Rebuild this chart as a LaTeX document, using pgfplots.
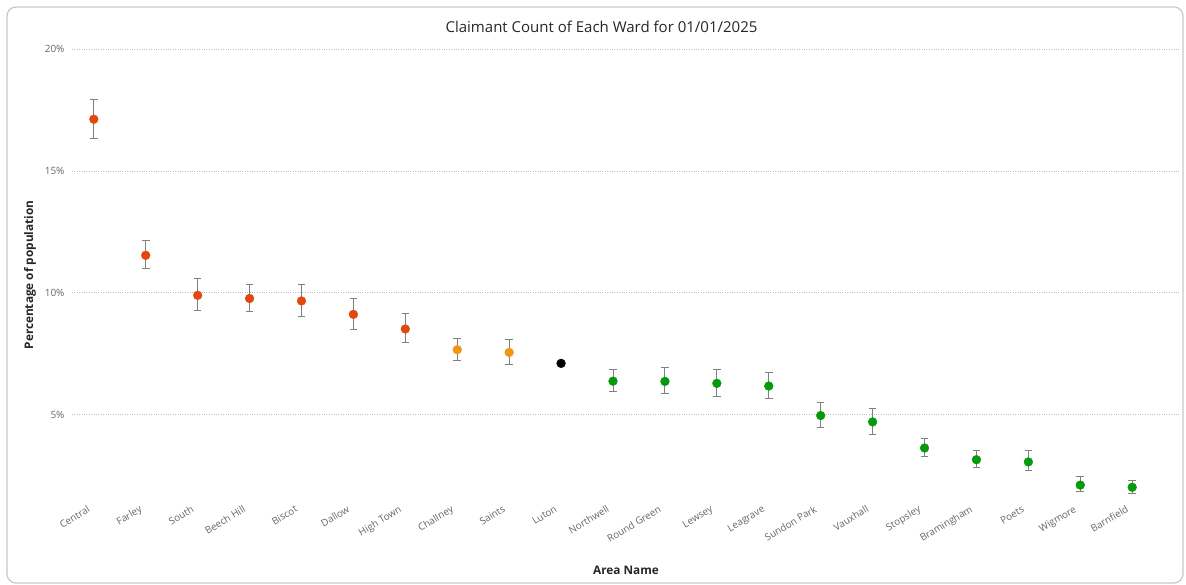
\documentclass[border=0pt]{standalone}
\usepackage{pgfplots}
\pgfplotsset{compat=1.18}
\usepackage{pgfplotstable}
\usepackage{fontspec}
\setmainfont{Open Sans}
\definecolor{redor}{HTML}{E2480E}
\definecolor{orng}{HTML}{F0960F}
\definecolor{grn}{HTML}{049A0C}
\definecolor{tick}{HTML}{666666}
\definecolor{errc}{HTML}{808080}

% x = category index, y = percentage, ep/em = error plus/minus
\pgfplotstableread{
x y ep em
0 17.12 0.82 0.78
1 11.54 0.61 0.54
2 9.90 0.69 0.63
3 9.77 0.58 0.54
4 9.67 0.68 0.64
5 9.12 0.66 0.63
6 8.52 0.62 0.57
}\redtab
\pgfplotstableread{
x y ep em
7 7.67 0.48 0.46
8 7.56 0.53 0.51
}\orangetab
\pgfplotstableread{
x y
9 7.11
}\blacktab
\pgfplotstableread{
x y ep em
10 6.38 0.48 0.42
11 6.37 0.57 0.51
12 6.29 0.57 0.55
13 6.18 0.55 0.51
14 4.97 0.55 0.49
15 4.71 0.57 0.50
16 3.64 0.39 0.35
17 3.16 0.36 0.31
18 3.07 0.45 0.37
19 2.12 0.35 0.28
20 2.03 0.29 0.26
}\greentab

\begin{document}
\begin{tikzpicture}
\useasboundingbox (0pt,0pt) rectangle (1186pt,585pt);
\draw[rounded corners=9pt, color=black!22, line width=1.2pt] (7pt,2pt) rectangle (1183pt,578pt);
\begin{axis}[
  at={(72pt,84.8pt)}, anchor=south west,
  scale only axis, width=1108pt, height=451.2pt,
  xmin=-0.42, xmax=20.92, ymin=1.5, ymax=20,
  axis line style={draw=none},
  major tick length=0pt,
  ytick={5,10,15,20},
  yticklabels={5\%,10\%,15\%,20\%},
  yticklabel style={font=\fontsize{10}{12}\selectfont, text=tick, xshift=-4pt},
  ymajorgrids,
  grid style={dotted, color=black!25, line width=0.8pt},
  xtick={0,...,20},
  xticklabels={Central,Farley,South,Beech Hill,Biscot,Dallow,High Town,Challney,Saints,Luton,Northwell,Round Green,Lewsey,Leagrave,Sundon Park,Vauxhall,Stopsley,Bramingham,Poets,Wigmore,Barnfield},
  xticklabel style={font=\fontsize{9.8}{11}\selectfont, text=tick, rotate=31, anchor=north east, xshift=-5pt, yshift=3pt},
  clip=false,
  error bars/error bar style={color=errc, line width=0.9pt},
  error bars/error mark options={rotate=90, color=errc, mark size=3.8pt, line width=0.9pt},
]
\addplot[only marks, mark=*, mark size=4.4pt, mark options={draw=redor, fill=redor},
  error bars/.cd, y dir=both, y explicit]
  table[x=x, y=y, y error plus=ep, y error minus=em]{\redtab};
\addplot[only marks, mark=*, mark size=4.4pt, mark options={draw=orng, fill=orng},
  error bars/.cd, y dir=both, y explicit]
  table[x=x, y=y, y error plus=ep, y error minus=em]{\orangetab};
\addplot[only marks, mark=*, mark size=4.4pt, mark options={draw=black, fill=black}]
  table[x=x, y=y]{\blacktab};
\addplot[only marks, mark=*, mark size=4.4pt, mark options={draw=grn, fill=grn},
  error bars/.cd, y dir=both, y explicit]
  table[x=x, y=y, y error plus=ep, y error minus=em]{\greentab};
\end{axis}
\node[font=\fontsize{15}{18}\selectfont, text=black!85] at (601.5pt,558pt) {Claimant Count of Each Ward for 01/01/2025};
\node[font=\fontsize{11.8}{14}\selectfont\bfseries, text=black!85, rotate=90] at (30pt,310pt) {Percentage of population};
\node[font=\fontsize{11.8}{14}\selectfont\bfseries, text=black!85] at (626pt,15pt) {Area Name};
\end{tikzpicture}
\end{document}
